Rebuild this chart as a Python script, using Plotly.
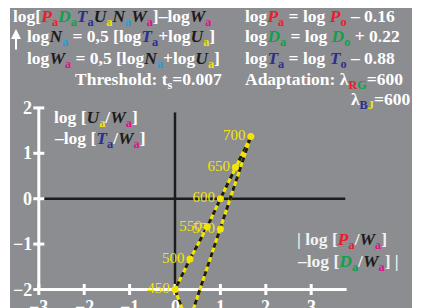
import plotly.graph_objects as go

# ---- data ----
curve1_wl = [400, 450, 500, 550, 600, 650, 700]
curve1_x = [0.35, 0.0, 0.33, 0.71, 1.0, 1.33, 1.67]
curve1_y = [-2.95, -2.0, -1.33, -0.62, 0.0, 0.69, 1.37]

curve2_wl = [400, 550, 700]
curve2_x = [0.30, 1.0, 1.67]
curve2_y = [-2.75, -0.67, 1.37]

label1_wl = ["450", "500", "550", "600", "650", "700"]
label2_wl = ["550"]

x_ticks = [-3, -2, -1, 0, 1, 2, 3]
y_ticks = [-2, -1, 0, 1, 2]
x_tick_labels = ["\u22123", "\u22122", "\u22121", "0", "1", "2", "3"]
y_tick_labels = ["\u22122", "\u22121", "0", "1", "2"]

# ---- colours ----
BG = "#8c8d91"
RED = "#e8202a"
GREEN = "#10a04a"
BLUE = "#2a2f92"
YEL = "#f2e600"
CYAN = "#1aa0dc"
MAG = "#e0108c"
DARK = "#1c1c1c"
WHITE = "#ffffff"
FONT = "Liberation Serif"
FS = 17.5

W, H = 424, 308
OFF = 8                       # page body margin
PL, PT, PR, PB = 10, 8, 412, 308   # plot area in page pixels
PX = 45.4
X0, Y0 = 175, 198.7           # page pixel of data origin
XR = [-(X0 - PL) / PX, (PR - X0) / PX]
YR = [(Y0 - PB) / PX, (Y0 - PT) / PX]

def px2paper(px, py):
    return (px - PL) / (PR - PL), (PB - py) / (PB - PT)

def var(letter, col, subcol):
    return (f"<i><span style='color:{col}'>{letter}</span></i>"
            f"<sub><span style='color:{subcol}'>a</span></sub>")

P = var("P", RED, RED)
D = var("D", GREEN, GREEN)
Tt = var("T", BLUE, BLUE)
U = var("U", DARK, YEL)
N = var("N", DARK, CYAN)
Wv = var("W", DARK, MAG)

fig = go.Figure()

for xs, ys in [(curve1_x, curve1_y), (curve2_x, curve2_y)]:
    fig.add_trace(go.Scatter(x=xs, y=ys, mode="lines",
                             line=dict(color=YEL, width=3), hoverinfo="skip"))
    fig.add_trace(go.Scatter(x=xs, y=ys, mode="lines",
                             line=dict(color=DARK, width=3, dash="5px,5px"),
                             hoverinfo="skip"))

fig.add_trace(go.Scatter(x=curve1_x[1:], y=curve1_y[1:], mode="markers+text",
                         text=label1_wl, textposition="middle left",
                         textfont=dict(family=FONT, size=15, color=YEL),
                         marker=dict(color=YEL, size=7)))
fig.add_trace(go.Scatter(x=[curve2_x[1]], y=[curve2_y[1]], mode="markers+text",
                         text=label2_wl, textposition="middle left",
                         textfont=dict(family=FONT, size=15, color=YEL),
                         marker=dict(color=YEL, size=7)))

shapes = []
shapes.append(dict(type="line", x0=-3, x1=3.75, y0=0, y1=0,
                   line=dict(color=DARK, width=2.5), layer="below"))
shapes.append(dict(type="line", x0=0, x1=0, y0=-2, y1=1.9,
                   line=dict(color=DARK, width=2.5), layer="below"))
shapes.append(dict(type="line", x0=-3, x1=3.78, y0=-2, y1=-2,
                   line=dict(color=WHITE, width=3), layer="below"))
shapes.append(dict(type="line", x0=-3, x1=-3, y0=-2, y1=2,
                   line=dict(color=WHITE, width=3), layer="below"))
tk = 5.5 / PX
for xv in x_ticks:
    shapes.append(dict(type="line", x0=xv, x1=xv, y0=-2 - tk, y1=-2 + tk,
                       line=dict(color=WHITE, width=3), layer="below"))
for yv in y_ticks:
    shapes.append(dict(type="line", x0=-3 - tk, x1=-3 + tk, y0=yv, y1=yv,
                       line=dict(color=WHITE, width=3), layer="below"))

ann = []
for xv, lab in zip(x_ticks, x_tick_labels):
    ann.append(dict(x=xv, y=-2, yshift=-5, text=f"<b>{lab}</b>", showarrow=False,
                    xanchor="center", yanchor="top",
                    font=dict(family=FONT, size=18, color=WHITE)))
for yv, lab in zip(y_ticks, y_tick_labels):
    ann.append(dict(x=-3, y=yv, xshift=-5, text=f"<b>{lab}</b>", showarrow=False,
                    xanchor="right", yanchor="middle",
                    font=dict(family=FONT, size=18, color=WHITE)))

def txt(px, py, s, size=FS, anchor="left", color=WHITE):
    x, y = px2paper(px, py)
    ann.append(dict(x=x, y=y, xref="paper", yref="paper", text=f"<b>{s}</b>",
                    showarrow=False, xanchor=anchor, yanchor="middle",
                    font=dict(family=FONT, size=size, color=color)))

def var0(letter, col):
    return (f"<i><span style='color:{col}'>{letter}</span></i>"
            f"<sub><span style='color:{col}'>o</span></sub>")

# header
txt(11, 17, f"log[{P}{D}{Tt}{U}{N}{Wv}]\u2013log{Wv}")
txt(25, 38, f"log{N} = 0,5 [log{Tt}+log{U}]")
txt(25, 59, f"log{Wv} = 0,5 [log{N}+log{U}]")
txt(73, 80, "Threshold: t<sub>s</sub>=0.007")

txt(243, 17, f"log{P} = log {var0('P', RED)} \u2013 0.16")
txt(243, 38, f"log{D} = log {var0('D', GREEN)} + 0.22")
txt(243, 59, f"log{Tt} = log {var0('T', BLUE)} \u2013 0.88")
txt(243, 80, "Adaptation: \u03bb<sub><span style='color:%s'>R</span><span style='color:%s'>G</span></sub>=600" % (RED, GREEN))
txt(349, 100, "\u03bb<sub><span style='color:%s'>B</span><span style='color:%s'>J</span></sub>=600" % (BLUE, YEL))

# in-plot labels
txt(52, 118, f"log [{U}/{Wv}]")
txt(52, 140, f"\u2013log [{Tt}/{Wv}]")
txt(295, 240, f"| log [{P}/{Wv}]", color="#f2f2f2")
txt(295, 262, f"\u2013log [{D}/{Wv}] |", color="#f2f2f2")

# up arrow
ax_, ay_ = px2paper(16, 29)
ann.append(dict(x=ax_, y=ay_, xref="paper", yref="paper", text="",
                showarrow=True, ax=0, ay=22, arrowhead=2, arrowsize=1,
                arrowwidth=2, arrowcolor=WHITE))

fig.update_layout(
    width=W, height=H,
    margin=dict(l=PL - OFF, r=W + OFF - PR, t=PT - OFF, b=H + OFF - PB, pad=0),
    paper_bgcolor=WHITE, plot_bgcolor=BG,
    showlegend=False,
    xaxis=dict(range=XR, visible=False, fixedrange=True),
    yaxis=dict(range=YR, visible=False, fixedrange=True),
    shapes=shapes, annotations=ann,
)

fig.write_html("out.html")
